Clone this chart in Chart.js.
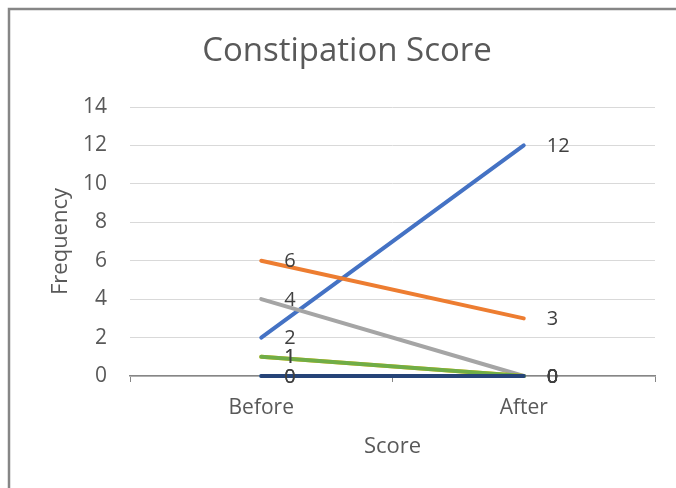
<!DOCTYPE html>
<html>
<head>
<meta charset="utf-8">
<script src="https://cdn.jsdelivr.net/npm/chart.js@4"></script>
<style>
  html, body { margin: 0; padding: 0; background: #fff; }
  #wrap { width: 676px; height: 488px; }
</style>
</head>
<body>
<div id="wrap"><canvas id="chart" width="676" height="488"></canvas></div>
<script>
// categories and values
const categories = ['Before', 'After'];
const series1 = [2, 12];
const series2 = [6, 3];
const series3 = [4, 0];
const series4 = [1, 0];
const series5 = [0, 0];
const series6 = [1, 0];
const series7 = [0, 0];
const seriesValues = [series1, series2, series3, series4, series5, series6, series7];
const seriesColors = ['#4472C4', '#ED7D31', '#A5A5A5', '#FFC000', '#5B9BD5', '#70AD47', '#264478'];
const chartTitle = 'Constipation Score';
const yMin = 0, yMax = 14, yStep = 2;

const FONT = '"Open Sans", "DejaVu Sans", sans-serif';

// cadre gris (bord gauche et haut) + titre centré sur le cadre complet
const framePlugin = {
  id: 'frame',
  beforeDraw(chart) {
    const ctx = chart.ctx;
    ctx.save();
    ctx.strokeStyle = '#868686';
    ctx.lineWidth = 2.5;
    ctx.beginPath();
    ctx.moveTo(9, chart.height);
    ctx.lineTo(9, 9);
    ctx.lineTo(chart.width, 9);
    ctx.stroke();
    ctx.font = '33px ' + FONT;
    ctx.fillStyle = '#595959';
    ctx.textAlign = 'center';
    ctx.textBaseline = 'middle';
    ctx.fillText(chartTitle, 347, 52);
    ctx.restore();
  }
};

// étiquettes de valeurs à droite des points
const labelPlugin = {
  id: 'valueLabels',
  afterDatasetsDraw(chart) {
    const ctx = chart.ctx;
    ctx.save();
    ctx.font = '20px ' + FONT;
    ctx.fillStyle = '#404040';
    ctx.textAlign = 'left';
    ctx.textBaseline = 'middle';
    chart.data.datasets.forEach((ds, i) => {
      chart.getDatasetMeta(i).data.forEach((pt, j) => {
        ctx.fillText(String(ds.data[j]), pt.x + 23, pt.y + 1);
      });
    });
    ctx.restore();
  }
};

new Chart(document.getElementById('chart'), {
  type: 'line',
  data: {
    labels: categories,
    datasets: seriesValues.map((vals, i) => ({
      label: 'Series' + (i + 1),
      data: vals,
      borderColor: seriesColors[i],
      backgroundColor: seriesColors[i],
      borderWidth: 4,
      borderCapStyle: 'round',
      pointRadius: 0,
      fill: false,
      clip: false,
      order: seriesValues.length - i
    }))
  },
  options: {
    responsive: false,
    animation: false,
    layout: { padding: { left: 0, right: 21, top: 107, bottom: 0 } },
    plugins: {
      legend: { display: false },
      tooltip: { enabled: false },
      title: { display: false }
    },
    scales: {
      x: {
        offset: true,
        grid: {
          drawOnChartArea: false,
          drawTicks: true,
          tickLength: 6,
          color: '#868686',
          offset: true
        },
        border: { color: '#868686', width: 1.5 },
        ticks: { color: '#595959', font: { family: FONT, size: 21 }, padding: 13 },
        title: {
          display: true,
          text: 'Score',
          color: '#595959',
          font: { family: FONT, size: 22 },
          padding: { top: 0, bottom: 28 }
        },
        afterFit(scale) { scale.height = 112; }
      },
      y: {
        min: yMin,
        max: yMax,
        grid: { color: '#d9d9d9', lineWidth: 1, drawTicks: false },
        border: { display: false },
        ticks: {
          stepSize: yStep,
          color: '#595959',
          font: { family: FONT, size: 21 },
          padding: 23
        },
        title: {
          display: true,
          text: 'Frequency',
          color: '#595959',
          font: { family: FONT, size: 22 },
          padding: { top: 48, bottom: 0 }
        },
        afterFit(scale) { scale.width = 130; }
      }
    }
  },
  plugins: [framePlugin, labelPlugin]
});
</script>
</body>
</html>
